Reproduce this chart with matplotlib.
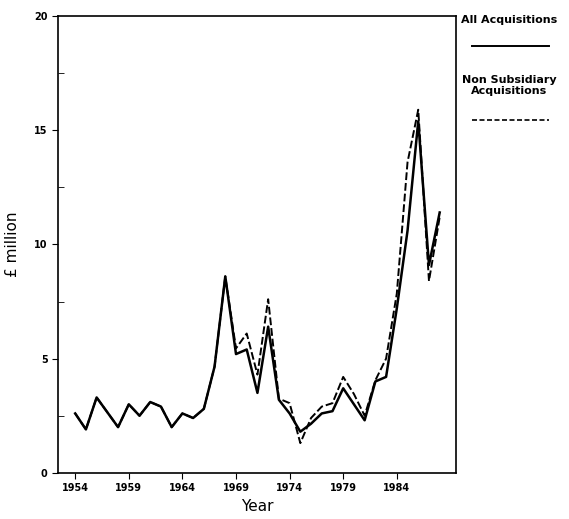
import numpy as np
import matplotlib.pyplot as plt
from matplotlib.lines import Line2D

years = list(range(1954, 1989))

all_acq = [2.6, 1.9, 3.3, 2.65, 2.0, 3.0, 2.5, 3.1, 2.9, 2.0,
           2.6, 2.4, 2.8, 4.65, 8.6, 5.2, 5.4, 3.5, 6.4, 3.2,
           2.6, 1.8, 2.15, 2.6, 2.7, 3.7, 3.0, 2.3, 4.0, 4.2,
           7.2, 10.6, 15.4, 9.1, 11.4]

non_sub = [2.6, 1.9, 3.3, 2.65, 2.0, 3.0, 2.5, 3.1, 2.9, 2.0,
           2.6, 2.4, 2.8, 4.65, 8.6, 5.45, 6.1, 4.3, 7.6, 3.25,
           3.05, 1.3, 2.4, 2.9, 3.05, 4.2, 3.45, 2.5, 4.05, 5.0,
           7.85, 13.6, 15.9, 8.4, 11.2]

xticks = [1954, 1959, 1964, 1969, 1974, 1979, 1984]
yticks = [0, 5, 10, 15, 20]

fig = plt.figure(figsize=(5.69, 5.19), dpi=100)
ax = fig.add_axes([0.102, 0.089, 0.699, 0.880])

ax.plot(years, non_sub, color='black', lw=1.4, ls=(0, (4, 1.5)))
ax.plot(years, all_acq, color='black', lw=1.8)

ax.set_xlim(1952.4, 1989.5)
ax.set_ylim(0, 20)
ax.set_xticks(xticks)
ax.set_yticks(yticks)
ax.set_yticks([2.5, 7.5, 12.5, 17.5], minor=True)
ax.tick_params(axis='both', which='major', direction='out', length=4,
               labelsize=7)
ax.tick_params(axis='y', which='minor', direction='in', length=4)
for lbl in ax.get_xticklabels() + ax.get_yticklabels():
    lbl.set_fontweight('bold')
for s in ax.spines.values():
    s.set_linewidth(1.2)

ax.set_xlabel('Year', fontsize=11)
ax.set_ylabel('£ million', fontsize=11)
ax.xaxis.set_label_coords(0.5, -0.058)
ax.yaxis.set_label_coords(-0.095, 0.5)

# legend drawn beside the plot
fig.text(0.895, 0.962, 'All Acquisitions', ha='center', va='center',
         fontsize=8, fontweight='bold')
fig.add_artist(Line2D([0.83, 0.965], [0.912, 0.912], color='black', lw=1.4,
                      transform=fig.transFigure))
fig.text(0.895, 0.835, 'Non Subsidiary\nAcquisitions', ha='center',
         va='center', fontsize=8, fontweight='bold', linespacing=1.1)
fig.add_artist(Line2D([0.83, 0.965], [0.768, 0.768], color='black', lw=1.2,
                      ls=(0, (3, 1.5)), transform=fig.transFigure))

fig.savefig('out.png', dpi=100)
